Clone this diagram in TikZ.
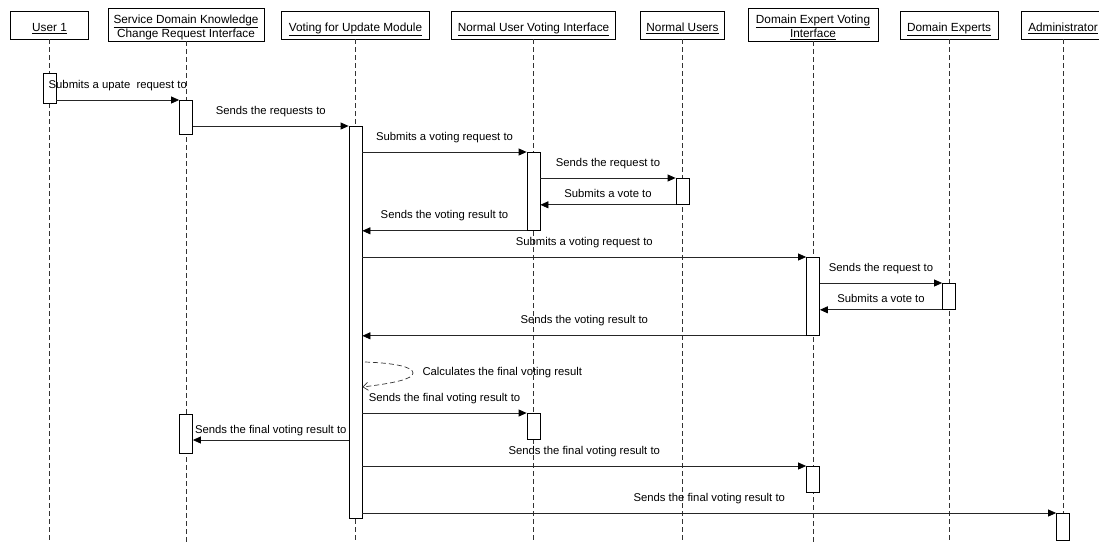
\documentclass[tikz,border=0pt]{standalone}
\usepackage{fontspec}
\setmainfont{Liberation Sans}
\usetikzlibrary{arrows.meta}
% participant caption, lowered slightly inside its box
\newcommand\hdtext[1]{\raisebox{-3.5pt}[\height][\depth]{\begin{tabular}{@{}c@{}}#1\end{tabular}}}
\begin{document}
\begin{tikzpicture}[x=1pt,y=-1pt,
  txt/.style={font=\fontsize{11.3}{13.5}\selectfont},
  htxt/.style={font=\fontsize{11.8}{14}\selectfont},
  head/.style={draw, line width=0.8pt, fill=white, htxt, inner sep=0pt, minimum height=28pt},
  head2/.style={head, minimum height=33pt},
  life/.style={line width=0.7pt, draw=black!80, dash pattern=on 5pt off 3pt},
  bar/.style={draw, line width=0.8pt, fill=white, inner sep=0pt, minimum width=13pt, anchor=north},
  msg/.style={line width=0.8pt, draw=black!85, -{Triangle[length=8pt,width=7pt,fill=black,color=black]}},
  lbl/.style={txt, anchor=base, yshift=12pt},
  lbls/.style={txt, anchor=base, yshift=7pt}]

\useasboundingbox (0,0) rectangle (1099,542);
\coordinate (bot) at (0,542);

% participants
\node[head, minimum width=78pt]  (h1) at (49.5,25)  {\hdtext{\underline{User 1}}};
\node[head2, minimum width=156pt] (h2) at (186,24.5) {\hdtext{\underline{Service Domain Knowledge}\\\underline{Change Request Interface}}};
\node[head, minimum width=148pt] (h3) at (355.5,25) {\hdtext{\underline{Voting for Update Module}}};
\node[head, minimum width=164pt] (h4) at (533.5,25) {\hdtext{\underline{Normal User Voting Interface}}};
\node[head, minimum width=84pt]  (h5) at (682.5,25) {\hdtext{\underline{Normal Users}}};
\node[head2, minimum width=130pt] (h6) at (813,24.5) {\hdtext{\underline{Domain Expert Voting}\\\underline{Interface}}};
\node[head, minimum width=98pt]  (h7) at (949,25)   {\hdtext{\underline{Domain Experts}}};
\node[head, minimum width=84pt]  (h8) at (1063,25)  {\hdtext{\underline{Administrator}}};

% lifelines
\foreach \h in {h1,h2,h3,h4,h5,h6,h7,h8}
  \draw[life] (\h.south) -- (\h.south |- bot);

% activation bars
\node[bar, minimum height=30pt]  (u1)   at (49.5,73)  {};
\node[bar, minimum height=34pt]  (sd1)  at (186,100)  {};
\node[bar, minimum height=392pt] (vm)   at (355.5,126) {};
\node[bar, minimum height=78pt]  (nuv1) at (533.5,152) {};
\node[bar, minimum height=26pt]  (nu1)  at (682.5,178) {};
\node[bar, minimum height=78pt]  (dev1) at (813,257)  {};
\node[bar, minimum height=26pt]  (de1)  at (949,283)  {};
\node[bar, minimum height=26pt]  (nuv2) at (533.5,413) {};
\node[bar, minimum height=39pt]  (sd2)  at (186,414)  {};
\node[bar, minimum height=26pt]  (dev2) at (813,466)  {};
\node[bar, minimum height=27pt]  (ad1)  at (1063,513) {};

% messages
\draw[msg] (u1.east |- sd1.north) -- node[lbl]{Submits a upate\ \ request to} (sd1.north west);
\draw[msg] (sd1.east |- vm.north) -- node[lbl]{Sends the requests to} (vm.north west);
\draw[msg] (vm.east |- nuv1.north) -- node[lbl]{Submits a voting request to} (nuv1.north west);
\draw[msg] (nuv1.east |- nu1.north) -- node[lbl]{Sends the request to} (nu1.north west);
\draw[msg] (nu1.south west) -- node[lbls]{Submits a vote to} (nuv1.east |- nu1.south west);
\draw[msg] (nuv1.south west) -- node[lbl]{Sends the voting result to} (vm.east |- nuv1.south west);
\draw[msg] (vm.east |- dev1.north) -- node[lbl]{Submits a voting request to} (dev1.north west);
\draw[msg] (dev1.east |- de1.north) -- node[lbl]{Sends the request to} (de1.north west);
\draw[msg] (de1.south west) -- node[lbls]{Submits a vote to} (dev1.east |- de1.south west);
\draw[msg] (dev1.south west) -- node[lbl]{Sends the voting result to} (vm.east |- dev1.south west);

% self call
\coordinate (s1) at (365,362);
\coordinate (s2) at (0,387);
\draw[life, -{Straight Barb[length=5pt,width=8pt]}] (s1)
  .. controls (395,363) and (413,367) .. (413,373)
  .. controls (413,379) and (395,383) .. (vm.east |- s2);
\node[txt, anchor=west] (calc) at (419,373) {Calculates the final voting result};

% final result
\coordinate (f2) at (0,440);
\draw[msg] (vm.east |- nuv2.north) -- node[lbl]{Sends the final voting result to} (nuv2.north west);
\draw[msg] (vm.west |- f2) -- node[lbls]{Sends the final voting result to} (sd2.east |- f2);
\draw[msg] (vm.east |- dev2.north) -- node[lbl]{Sends the final voting result to} (dev2.north west);
\draw[msg] (vm.east |- ad1.north) -- node[lbl]{Sends the final voting result to} (ad1.north west);

\end{tikzpicture}
\end{document}
